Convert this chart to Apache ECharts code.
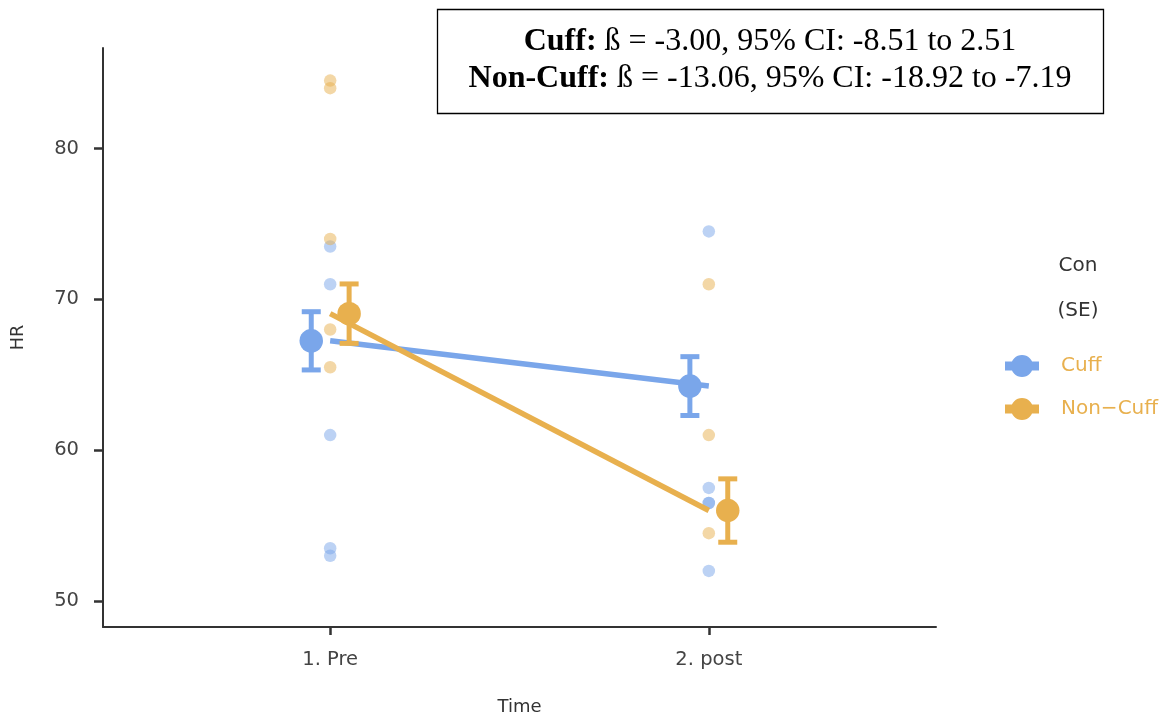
<!DOCTYPE html>
<html><head><meta charset="utf-8">
<script src="https://cdn.jsdelivr.net/npm/echarts@6/dist/echarts.min.js"></script>
<style>html,body{margin:0;padding:0;background:#fff}#c{width:1164px;height:721px}</style>
</head><body><div id="c"></div>
<script>
// ---- data ----
const categories = ['1. Pre', '2. post'];
const groups = ['Cuff', 'Non-Cuff'];
const cuffPreRaw = [73.5, 71.0, 61.0, 53.5, 53.0];
const cuffPostRaw = [74.5, 57.5, 56.5, 56.5, 52.0];
const nonCuffPreRaw = [84.5, 84.0, 74.0, 68.0, 65.5];
const nonCuffPostRaw = [71.0, 61.0, 54.5];
const cuffMean = [67.25, 64.25];
const cuffSE = [1.93, 1.95];
const nonCuffMean = [69.05, 56.0];
const nonCuffSE = [1.97, 2.1];
const yTicks = [50, 60, 70, 80];
const annotation = [
  ['Cuff:', ' ß = -3.00, 95% CI: -8.51 to 2.51'],
  ['Non-Cuff:', ' ß = -13.06, 95% CI: -18.92 to -7.19']
];

// ---- style ----
const colors = ['#7AA6EA', '#E8B04E'];
const dodge = [-0.05, 0.05];
const font = '"DejaVu Sans", sans-serif';

function raw(pre, post) {
  return pre.map(v => [1, v]).concat(post.map(v => [2, v]));
}
function errData(mean, se, d) {
  return mean.map((m, i) => [i + 1 + d, m - se[i], m + se[i]]);
}
function errSeries(name, data, color) {
  return {
    name, type: 'custom', data, encode: {x: 0, y: [1, 2]}, z: 4,
    renderItem(params, api) {
      const x = api.value(0), lo = api.value(1), hi = api.value(2);
      const a = api.coord([x, lo]), b = api.coord([x, hi]);
      const hw = 9.5, st = {stroke: color, lineWidth: 5};
      return {type: 'group', children: [
        {type: 'line', shape: {x1: a[0], y1: a[1], x2: b[0], y2: b[1]}, style: st},
        {type: 'line', shape: {x1: a[0] - hw, y1: a[1], x2: a[0] + hw, y2: a[1]}, style: st},
        {type: 'line', shape: {x1: b[0] - hw, y1: b[1], x2: b[0] + hw, y2: b[1]}, style: st}
      ]};
    }
  };
}

const rawSets = [raw(cuffPreRaw, cuffPostRaw), raw(nonCuffPreRaw, nonCuffPostRaw)];
const means = [cuffMean, nonCuffMean];
const ses = [cuffSE, nonCuffSE];

const series = [];
groups.forEach((g, k) => series.push({
  name: g, type: 'scatter', data: means[k].map((m, i) => [i + 1 + dodge[k], m]), symbolSize: 23.5, z: 5,
  itemStyle: {color: colors[k], opacity: 1}
}));
groups.forEach((g, k) => series.push({
  name: g, type: 'scatter', data: rawSets[k], symbolSize: 12.5, z: 2,
  itemStyle: {color: colors[k], opacity: 0.5}
}));
groups.forEach((g, k) => series.push({
  name: g, type: 'line', data: means[k].map((m, i) => [i + 1, m]), symbol: 'none', z: 3,
  lineStyle: {color: colors[k], width: 5.5}, itemStyle: {color: colors[k]}
}));
groups.forEach((g, k) => series.push(errSeries(g, errData(means[k], ses[k], dodge[k]), colors[k])));

const legendIcon = 'path://M0,6.5 L6.9,6.5 L6.9,15.5 L0,15.5 Z M27.1,6.5 L34,6.5 L34,15.5 L27.1,15.5 Z M6,11 A11,11 0 1,1 28,11 A11,11 0 1,1 6,11 Z';

const chart = echarts.init(document.getElementById('c'), null, {renderer: 'canvas'});
chart.setOption({
  animation: false,
  backgroundColor: '#fff',
  grid: {left: 103, right: 228, top: 48, bottom: 91, containLabel: false},
  xAxis: {
    type: 'value', min: 0.4, max: 2.6,
    name: 'Time', nameLocation: 'middle', nameGap: 71,
    nameTextStyle: {fontFamily: font, fontSize: 18, color: '#333'},
    axisLine: {show: true, onZero: false, lineStyle: {color: '#333', width: 2}},
    axisTick: {show: true, length: 8, lineStyle: {color: '#333', width: 2.5}, customValues: [1, 2]},
    axisLabel: {customValues: [1, 2], formatter: v => categories[Math.round(v) - 1] || '',
      fontFamily: font, fontSize: 19.5, color: '#444', margin: 23},
    splitLine: {show: false}
  },
  yAxis: {
    type: 'value', min: 48.28, max: 86.66,
    name: 'HR', nameLocation: 'middle', nameGap: 76,
    nameTextStyle: {fontFamily: font, fontSize: 17.5, color: '#333'},
    axisLine: {show: true, onZero: false, lineStyle: {color: '#333', width: 2}},
    axisTick: {show: true, length: 9, lineStyle: {color: '#333', width: 2.5}, customValues: yTicks},
    axisLabel: {customValues: yTicks, fontFamily: font, fontSize: 19.5, color: '#444', margin: 24},
    splitLine: {show: false}
  },
  legend: {
    data: groups.map((g, k) => ({name: g, icon: legendIcon, itemStyle: {color: colors[k], opacity: 1}})),
    orient: 'vertical', left: 1000, top: 350, itemWidth: 34, itemHeight: 22, itemGap: 21,
    selectedMode: false,
    formatter: n => n.replace('-', '\u2212'),
    textStyle: {fontFamily: font, fontSize: 20, color: '#E8B04E', padding: [0, 0, 0, 17]}
  },
  graphic: [
    {type: 'text', x: 1078, y: 266, style: {text: 'Con', font: '20px ' + font, fill: '#333', align: 'center', verticalAlign: 'middle'}},
    {type: 'text', x: 1078, y: 311, style: {text: '(SE)', font: '20px ' + font, fill: '#333', align: 'center', verticalAlign: 'middle'}},
    {type: 'rect', shape: {x: 437.5, y: 9.5, width: 666, height: 104}, style: {fill: '#fff', stroke: '#000', lineWidth: 1.3}, z: 10},
    ...annotation.map((a, i) => ({
      type: 'text', x: 770, y: 42 + i * 37, z: 11,
      style: {
        text: '{b|' + a[0] + '}{n|' + a[1] + '}', align: 'center', verticalAlign: 'middle',
        rich: {
          b: {fontFamily: '"Liberation Serif", serif', fontSize: 32, fontWeight: 'bold', fill: '#000'},
          n: {fontFamily: '"Liberation Serif", serif', fontSize: 32, fill: '#000'}
        }
      }
    }))
  ],
  series
});
</script></body></html>
